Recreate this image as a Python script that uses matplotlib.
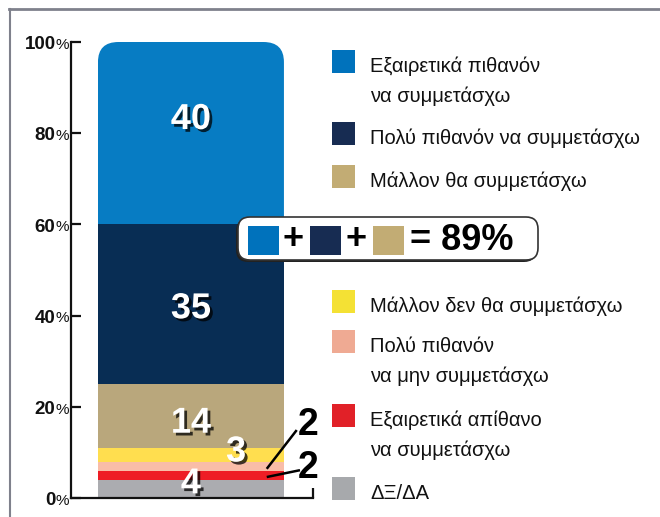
import matplotlib
matplotlib.use('Agg')
import matplotlib.pyplot as plt
import matplotlib.patheffects as pe
from matplotlib.patches import FancyBboxPatch, Rectangle
from matplotlib.lines import Line2D
from matplotlib.transforms import blended_transform_factory
import numpy as np

# data, top of the bar first (same order as the legend)
categories = ['Εξαιρετικά πιθανόν\nνα συμμετάσχω',
              'Πολύ πιθανόν να συμμετάσχω',
              'Μάλλον θα συμμετάσχω',
              'Μάλλον δεν θα συμμετάσχω',
              'Πολύ πιθανόν\nνα μην συμμετάσχω',
              'Εξαιρετικά απίθανο\nνα συμμετάσχω',
              'ΔΞ/ΔΑ']
values = [40, 35, 14, 3, 2, 2, 4]
bar_colors = ['#077CC3', '#082D54', '#B9A77C', '#FFDE4F', '#F9BDA8', '#EE1D25', '#ABACB0']
legend_colors = ['#0072BC', '#172C52', '#C2AC74', '#F4E134', '#EFAA93', '#E12128', '#A7A9AC']
yticks = [0, 20, 40, 60, 80, 100]

W, H = 660, 517
fig = plt.figure(figsize=(W / 100, H / 100), dpi=100)

# main axes, placed in pixels
ax = fig.add_axes([71 / W, 19 / H, 242 / W, 456 / H])
ax.set_xlim(-0.516, 0.525)
ax.set_ylim(0, 100)

# stack from the bottom
vals_b = values[::-1]
cols_b = bar_colors[::-1]
bottoms = np.concatenate([[0], np.cumsum(vals_b)[:-1]])
bars = ax.bar(0, vals_b, width=0.8, bottom=bottoms, color=cols_b, linewidth=0, zorder=2)

# rounded top of the bar
clip = FancyBboxPatch((-0.4, 0), 0.8, 100,
                      boxstyle='round,pad=0,rounding_size=0.088',
                      mutation_aspect=50, transform=ax.transData,
                      facecolor='none', edgecolor='none')
ax.add_patch(clip)
bars[-1].set_clip_path(clip)

# segment labels (offsets from the segment centre)
shadow = [pe.withSimplePatchShadow(offset=(2, -2), shadow_rgbFace='black', alpha=0.75)]
inside = {6: (0.0, 3.0), 5: (0.0, -1.0), 4: (0.0, -1.6), 3: (0.194, 0.6), 0: (0.0, 1.1)}
for i, (v, b) in enumerate(zip(vals_b, bottoms)):
    if i in inside:
        dx, dy = inside[i]
        ax.text(dx, b + v / 2 + dy, str(v), ha='center', va='center', color='white',
                fontsize=26, fontweight='bold', family='Liberation Sans',
                path_effects=shadow, zorder=5)

# outside labels for the two small slices, with leader lines
outside = {2: (0.503, 16.0, 0.326, 6.4, 0.455, 14.9),
           1: (0.503, 6.6, 0.326, 4.6, 0.469, 6.1)}
for i, (tx, ty, x0, y0, x1, y1) in outside.items():
    ax.plot([x0, x1], [y0, y1], color='black', lw=1.8, zorder=5, clip_on=False,
            solid_capstyle='butt')
    ax.text(tx, ty, str(vals_b[i]), ha='center', va='center', color='black',
            fontsize=27, fontweight='bold', family='Liberation Sans', zorder=5)

# axes styling
for s in ['top', 'right']:
    ax.spines[s].set_visible(False)
for s in ['left', 'bottom']:
    ax.spines[s].set_linewidth(1.6)
    ax.spines[s].set_color('#111111')
ax.set_yticks(yticks)
ax.set_yticklabels([])
ax.set_xticks([0.525])
ax.set_xticklabels([])
ax.tick_params(axis='both', direction='in', length=7.5, width=1.6, color='#111111')
ax.patch.set_visible(False)

# y tick labels: bold digits and a smaller percent sign
trans = blended_transform_factory(ax.transAxes, ax.transData)
for t in yticks:
    ax.text(-0.064, t - 0.6, str(t), transform=trans, ha='right', va='center',
            fontsize=13.5, fontweight='bold', family='Liberation Sans', color='#111111')
    ax.text(-0.066, t - 0.6, '%', transform=trans, ha='left', va='center',
            fontsize=11, family='Liberation Sans', color='#111111')

# overlay in pixel coordinates for frame, legend and the summary box
ov = fig.add_axes([0, 0, 1, 1], zorder=10)
ov.set_xlim(0, W)
ov.set_ylim(H, 0)
ov.axis('off')
ov.patch.set_visible(False)

ov.add_line(Line2D([9, W], [9, 9], color='#7F818C', lw=2))
ov.add_line(Line2D([9.5, 9.5], [9, H], color='#7F818C', lw=1.5))

# legend
legend_base = [73, 145, 188, 313, 353, 427, 500]
for lab, col, yb in zip(categories, legend_colors, legend_base):
    ov.add_patch(Rectangle((332, yb - 23), 23, 23, facecolor=col, edgecolor='none'))
    for k, line in enumerate(lab.split('\n')):
        ov.text(370, yb + 30 * k - 1, line, ha='left', va='baseline', fontsize=14.5,
                family='Liberation Sans', color='#111111')

# summary box: blue + navy + tan = 89%
likely = sum(values[:3])
ov.add_patch(FancyBboxPatch((236, 219), 300, 43, boxstyle='round,pad=0,rounding_size=12',
                            facecolor='#222222', edgecolor='none'))
ov.add_patch(FancyBboxPatch((238, 217), 300, 43, boxstyle='round,pad=0,rounding_size=12',
                            facecolor='white', edgecolor='#333333', lw=1.2))
for x0, col in zip([248, 310, 373], legend_colors[:3]):
    ov.add_patch(Rectangle((x0, 226), 31, 29, facecolor=col, edgecolor='none'))
for xp in [293, 356]:
    ov.text(xp, 240, '+', ha='center', va='center', fontsize=26, fontweight='bold',
            family='Liberation Sans', color='black')
ov.text(410, 241, f'= {likely}%', ha='left', va='center', fontsize=26, fontweight='bold',
        family='Liberation Sans', color='black')

fig.savefig('out.png', dpi=100)
